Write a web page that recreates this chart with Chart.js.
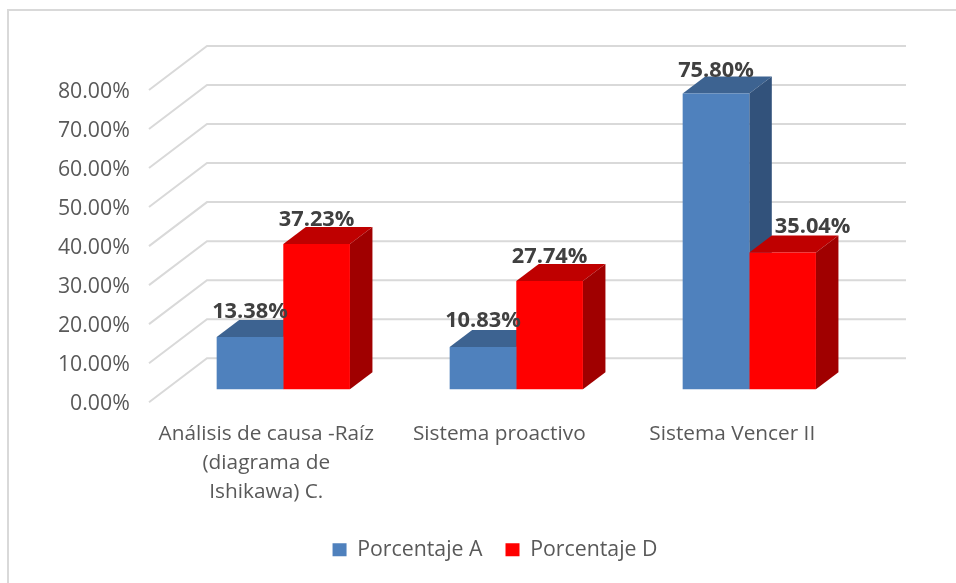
<!DOCTYPE html>
<html>
<head>
<meta charset="utf-8">
<title>Porcentaje A y D</title>
<script src="https://cdn.jsdelivr.net/npm/chart.js@4"></script>
<style>
    html, body { margin: 0; padding: 0; background: #fff; }
    #wrap { position: relative; width: 956px; height: 583px; }
    #frame { position: absolute; left: 7px; top: 9px; right: 0; bottom: 0; border-left: 2px solid #d9d9d9; border-top: 2px solid #d9d9d9; }
    canvas { position: absolute; left: 0; top: 0; }
</style>
</head>
<body>
<div id="wrap">
    <div id="frame"></div>
    <canvas id="chart" width="956" height="583"></canvas>
</div>
<script>
const categories = [['Análisis de causa -Raíz', '(diagrama de', 'Ishikawa) C.'], 'Sistema proactivo', 'Sistema Vencer II'];
const porcentajeA = [13.38, 10.83, 75.80];
const porcentajeD = [37.23, 27.74, 35.04];
const percentTicks = [0, 10, 20, 30, 40, 50, 60, 70, 80];

const fontName = '"Open Sans", sans-serif';
const textColor = '#595959';

// 3D look: bars stand part way between the front edge of the floor and the back wall
const wall = { dx: 58, dy: 44, right: 906 };      // floor depth, in pixels
const floorGap = { dx: 17.8, dy: 13 };            // front edge of floor -> front of bars
const barDepth = { dx: 22.5, dy: 17 };
const pxPerUnit = 3.9;
const gapUnits = floorGap.dy / pxPerUnit;

// how far each value label sits from its bar, the 35.04% one is off to the right
const labelLift = [[25, 26, 23], [24, 24, 26]];
const labelShift = [[0, 0, 0], [0, 0, 30]];

const sideColors = [
    { top: '#3d6391', side: '#32527b' },
    { top: '#bf0000', side: '#a00000' }
];

const depth3d = {
    id: 'depth3d',
    afterLayout(chart) {
        // labels get clipped to the scale box, so let it reach the canvas edge
        chart.scales.pct.left = 0;
    },
    beforeDatasetsDraw(chart) {
        const ctx = chart.ctx;
        const yScale = chart.scales.y;

        // gridlines, run across the floor and then along the back wall
        ctx.save();
        ctx.strokeStyle = '#d9d9d9';
        ctx.lineWidth = 2;
        percentTicks.forEach(t => {
            const y = yScale.getPixelForValue(t - gapUnits);
            const x0 = chart.chartArea.left - floorGap.dx;
            ctx.beginPath();
            ctx.moveTo(x0, y);
            ctx.lineTo(x0 + wall.dx, y - wall.dy);
            ctx.lineTo(wall.right, y - wall.dy);
            ctx.stroke();
        });

        // top and side faces of the bars
        chart.data.datasets.forEach((ds, i) => {
            chart.getDatasetMeta(i).data.forEach(bar => {
                const left = bar.x - bar.width / 2;
                const right = bar.x + bar.width / 2;
                ctx.fillStyle = sideColors[i].top;
                ctx.beginPath();
                ctx.moveTo(left, bar.y);
                ctx.lineTo(left + barDepth.dx, bar.y - barDepth.dy);
                ctx.lineTo(right + barDepth.dx, bar.y - barDepth.dy);
                ctx.lineTo(right, bar.y);
                ctx.closePath();
                ctx.fill();
                ctx.fillStyle = sideColors[i].side;
                ctx.beginPath();
                ctx.moveTo(right, bar.y);
                ctx.lineTo(right + barDepth.dx, bar.y - barDepth.dy);
                ctx.lineTo(right + barDepth.dx, bar.base - barDepth.dy);
                ctx.lineTo(right, bar.base);
                ctx.closePath();
                ctx.fill();
            });
        });
        ctx.restore();
    },
    afterDatasetsDraw(chart) {
        const ctx = chart.ctx;
        ctx.save();
        ctx.font = 'bold 21.8px ' + fontName;
        ctx.fillStyle = '#404040';
        ctx.textAlign = 'center';
        ctx.textBaseline = 'middle';
        chart.data.datasets.forEach((ds, i) => {
            chart.getDatasetMeta(i).data.forEach((bar, j) => {
                ctx.fillText(ds.data[j].toFixed(2) + '%', bar.x + labelShift[i][j], bar.y - labelLift[i][j]);
            });
        });
        ctx.restore();
    }
};

new Chart(document.getElementById('chart'), {
    type: 'bar',
    data: {
        labels: categories,
        datasets: [
            { label: 'Porcentaje A', data: porcentajeA, backgroundColor: '#4f81bd', yAxisID: 'y', barPercentage: 1, categoryPercentage: 0.572 },
            { label: 'Porcentaje D', data: porcentajeD, backgroundColor: '#ff0000', yAxisID: 'y', barPercentage: 1, categoryPercentage: 0.572 }
        ]
    },
    options: {
        responsive: false,
        animation: false,
        layout: { padding: { left: 124.2, right: 90.2, top: 90, bottom: 12.5 } },
        plugins: {
            tooltip: { enabled: false },
            legend: {
                position: 'bottom',
                labels: {
                    boxWidth: 14,
                    boxHeight: 13,
                    padding: 23,
                    color: textColor,
                    font: { family: fontName, size: 21.3 }
                }
            }
        },
        scales: {
            x: {
                grid: { display: false },
                border: { display: false },
                ticks: {
                    color: textColor,
                    font: { family: fontName, size: 20.8, lineHeight: 1.4 },
                    maxRotation: 0,
                    autoSkip: false,
                    labelOffset: -17,
                    padding: 9
                },
                afterFit(scale) { scale.height = 114; }
            },
            // the bars stand on this one: its zero is lifted off the front edge of the floor
            y: {
                display: false,
                min: -gapUnits,
                max: 80 - gapUnits
            },
            // printed axis, tied to the front edge of the floor, its text sits slightly lower than the lines
            pct: {
                position: 'left',
                min: 0.5,
                max: 80.5,
                afterBuildTicks(scale) { scale.ticks = percentTicks.map(v => ({ value: v })); },
                grid: { display: false },
                border: { display: false },
                ticks: {
                    color: textColor,
                    padding: 29,
                    font: { family: fontName, size: 21.3 },
                    callback: v => v.toFixed(2) + '%'
                },
                afterFit(scale) { scale.width = 42.6; }
            }
        }
    },
    plugins: [depth3d]
});
</script>
</body>
</html>
